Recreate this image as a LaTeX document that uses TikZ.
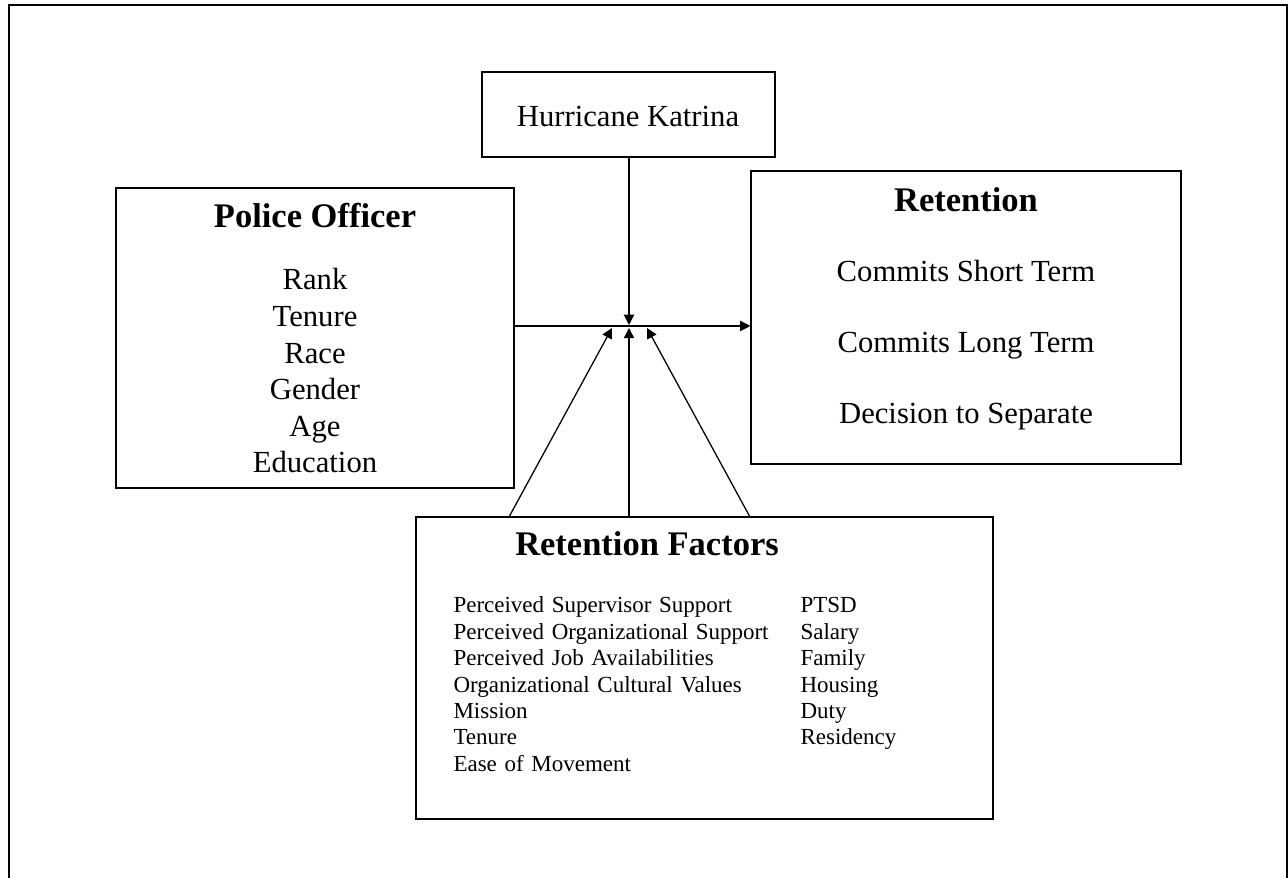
\documentclass[tikz,border=0pt]{standalone}
\usepackage{fontspec}
\setmainfont{Liberation Serif}
\usepackage{tikz}
\usetikzlibrary{arrows.meta,positioning}
\newcommand{\pxu}{0.3913pt}

\begin{document}
\begin{tikzpicture}[x=\pxu, y=-\pxu,
  box/.style={draw, rectangle, line width=0.45pt, inner sep=0pt},
  head/.style={font=\fontsize{13.5}{16}\selectfont\bfseries, inner sep=0pt, anchor=base},
  item/.style={font=\fontsize{12}{14}\selectfont, inner sep=0pt, text height=9pt, text depth=3pt},
  fac/.style={font=\fontsize{9}{10.5}\selectfont, inner sep=0pt, text height=7pt, text depth=2pt, align=left},
  link/.style={line width=0.5pt, -{Triangle[length=4pt,width=4pt]}}]
\useasboundingbox (0,0) rectangle (1288,878);
\draw[line width=0.8pt] (9,884) |- (1287,5) -- (1287,884);

% boxes
\node[box, minimum width=114.65pt, minimum height=33.26pt] (storm) at (628.5,114.5) {};
\node[box, minimum width=155.74pt, minimum height=117.39pt] (officer) at (315,338) {};
\node[box, minimum width=168.26pt, minimum height=114.65pt] (retention) at (966,317.5) {};
\node[box, minimum width=225.78pt, minimum height=118.17pt] (factors) at (704.5,668) {};

\node[item, anchor=base] (stormtxt) at (628,127) {Hurricane Katrina};

% officer attributes
\node[head] (offtitle) at (315,228) {Police Officer};
\node[item, anchor=base] (rank) at (315,290) {Rank};
\node[item, below of=rank, node distance=14.32pt] (tenure) {Tenure};
\node[item, below of=tenure, node distance=14.32pt] (race) {Race};
\node[item, below of=race, node distance=14.32pt] (gender) {Gender};
\node[item, below of=gender, node distance=14.32pt] (age) {Age};
\node[item, below of=age, node distance=14.32pt] (edu) {Education};

% outcomes
\node[head] (rettitle) at (966,212) {Retention};
\node[item, anchor=base] (short) at (966,282) {Commits Short Term};
\node[item, below of=short, node distance=27.78pt] (long) {Commits Long Term};
\node[item, below of=long, node distance=27.78pt] (separate) {Decision to Separate};

% retention factors, two columns
\node[head] (factitle) at (647,556) {Retention Factors};
\node[fac, text width=125pt, anchor=base west] (pss) at (453,613) {Perceived Supervisor Support};
\node[fac, text width=125pt, below of=pss, node distance=10.33pt] (pos) {Perceived Organizational Support};
\node[fac, text width=125pt, below of=pos, node distance=10.33pt] (pja) {Perceived Job Availabilities};
\node[fac, text width=125pt, below of=pja, node distance=10.33pt] (ocv) {Organizational Cultural Values};
\node[fac, text width=125pt, below of=ocv, node distance=10.33pt] (mission) {Mission};
\node[fac, text width=125pt, below of=mission, node distance=10.33pt] (ftenure) {Tenure};
\node[fac, text width=125pt, below of=ftenure, node distance=10.33pt] (ease) {Ease of Movement};
\node[fac, text width=60pt, anchor=base west] (ptsd) at (800,613) {PTSD};
\node[fac, text width=60pt, below of=ptsd, node distance=10.33pt] (salary) {Salary};
\node[fac, text width=60pt, below of=salary, node distance=10.33pt] (family) {Family};
\node[fac, text width=60pt, below of=family, node distance=10.33pt] (housing) {Housing};
\node[fac, text width=60pt, below of=housing, node distance=10.33pt] (duty) {Duty};
\node[fac, text width=60pt, below of=duty, node distance=10.33pt] (residency) {Residency};

% arrows into the meeting point
\coordinate (hub) at (629,326);
\coordinate (tipl) at (612,328);
\coordinate (tipm) at (629,328);
\coordinate (tipr) at (647,328);
\coordinate (footl) at (509,517);
\coordinate (footr) at (750,517);
\draw[link] (officer.east |- hub) -- (retention.west |- hub);
\draw[link] (storm.south -| hub) -- ([yshift=0.4pt]hub);
\draw[link] (footl) -- (tipl);
\draw[link] (factors.north -| tipm) -- (tipm);
\draw[link] (footr) -- (tipr);
\end{tikzpicture}
\end{document}
